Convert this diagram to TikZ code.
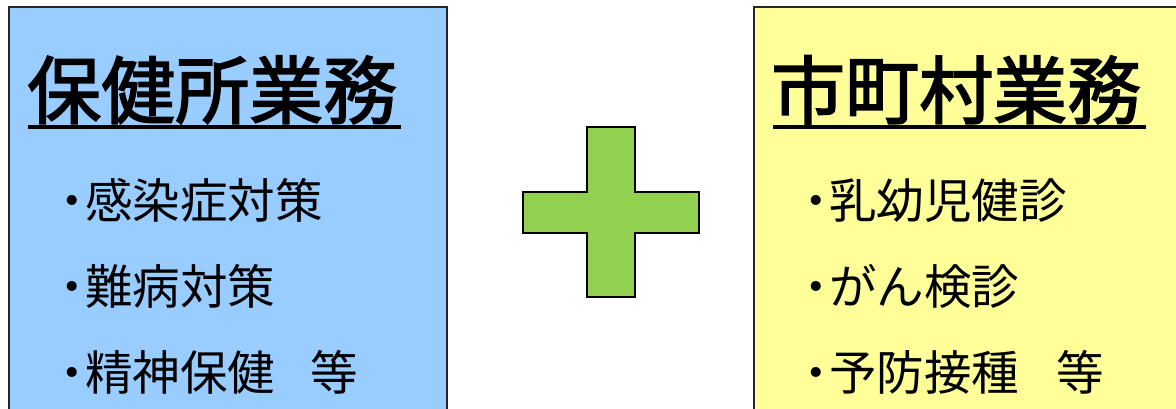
\documentclass[tikz,border=0pt]{standalone}
\usepackage{fontspec}
\newfontfamily\jpfont{Noto Sans CJK JP}
\newfontfamily\jptitlefont{Noto Sans CJK JP}[FakeBold=2.2]
\usepackage{tikz}
\usetikzlibrary{positioning}
\definecolor{hokenblue}{HTML}{99CCFF}
\definecolor{shiyellow}{HTML}{FFFF99}
\definecolor{plusgreen}{HTML}{92D050}
\newcommand{\itemdot}{・\kern-0.22em}

\begin{document}
\begin{tikzpicture}[x=1pt,y=-1pt,
	titletext/.style={anchor=base west,inner sep=0pt,font=\jptitlefont\fontsize{74}{80}\selectfont},
	itemtext/.style={anchor=base west,inner sep=0pt,font=\jpfont\fontsize{47.5}{52}\selectfont},
	underbar/.style={line width=3.6pt}]
	
	\useasboundingbox (0,0) rectangle (1176,408);
	\clip (0,0) rectangle (1176,408);
	
	% Boxes
	\draw[line width=1.6pt,draw=black!85,fill=hokenblue] (9,7) rectangle (447,430);
	\draw[line width=1.6pt,draw=black!85,fill=shiyellow] (754,7) rectangle (1200,430);
	
	% Plus sign
	\draw[line width=1.8pt,fill=plusgreen]
	(587,127) -- (635,127) -- (635,192) -- (699,192) -- (699,233)
	-- (635,233) -- (635,297) -- (587,297) -- (587,233) -- (523,233)
	-- (523,192) -- (587,192) -- cycle;
	
	% Titles
	\node[titletext] (hoken) at (27,118) {保健所業務};
	\draw[underbar] (28,127) -- (401,127);
	\node[titletext] (shichoson) at (771,118) {市町村業務};
	\draw[underbar] (773,127) -- (1146,127);
	
	% Left items
	\node[itemtext] (kansen) at (48,218) {\itemdot 感染症対策};
	\node[itemtext] (nanbyo) at (48,304) {\itemdot 難病対策};
	\node[itemtext] (seishin) at (48,390) {\itemdot 精神保健\hspace{0.75em}等};
	
	% Right items
	\node[itemtext] (nyuyoji) at (792,218) {\itemdot 乳幼児健診};
	\node[itemtext] (gan) at (792,304) {\itemdot がん検診};
	\node[itemtext] (yobo) at (792,390) {\itemdot 予防接種\hspace{0.78em}等};
	
\end{tikzpicture}
\end{document}
